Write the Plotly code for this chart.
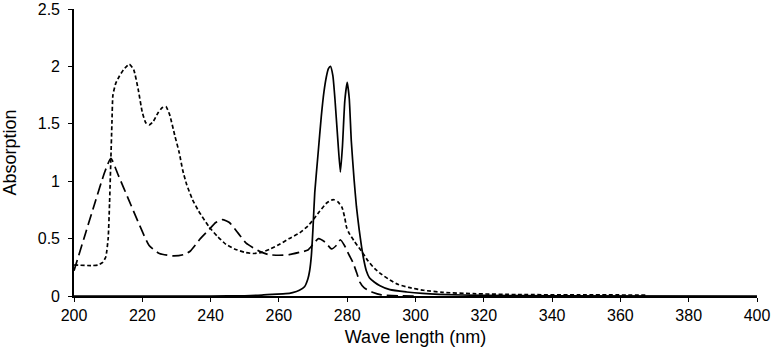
import plotly.graph_objects as go

# Solid curve
solid_x = [200, 220, 240, 250, 255, 258, 262, 264, 266, 267.5, 268.5, 269, 269.5, 270, 270.5,
           271.5, 272.4, 273.2, 273.9, 274.5, 275.1, 275.8, 276.4, 277.3, 278.0, 278.6, 279.3,
           280.0, 280.6, 281.2, 282.0, 282.7, 283.5, 284.2, 284.7, 285.6, 286.5, 288, 289.6,
           292.5, 297.4, 302, 307, 320, 340, 400]
solid_y = [0, 0, 0, 0.002, 0.008, 0.015, 0.02, 0.03, 0.05, 0.08, 0.15, 0.22, 0.35, 0.6, 0.9,
           1.25, 1.56, 1.78, 1.91, 1.98, 2.0, 1.92, 1.72, 1.34, 1.08, 1.3, 1.7,
           1.86, 1.72, 1.35, 1.02, 0.78, 0.58, 0.43, 0.34, 0.22, 0.16, 0.12, 0.09,
           0.055, 0.035, 0.022, 0.014, 0.005, 0.002, 0]

# Long-dash curve
long_x = [200, 203, 206, 209, 210.8, 213, 216, 219, 222, 225, 228.9, 232, 234, 237, 239.6,
          241.5, 243.5, 245.5, 248, 250.4, 252.5, 254.3, 257, 260, 263, 266, 268.5, 270,
          271.6, 273.5, 275.4, 276.8, 278, 279.2, 280.5, 281.7, 282.8, 283.7, 285, 287.6,
          290, 295, 300]
long_y = [0.22, 0.51, 0.8, 1.08, 1.2, 1.05, 0.84, 0.63, 0.44, 0.37, 0.35, 0.36, 0.39, 0.5, 0.58,
          0.64, 0.665, 0.64, 0.55, 0.46, 0.42, 0.39, 0.36, 0.355, 0.36, 0.38, 0.40, 0.45,
          0.50, 0.47, 0.41, 0.44, 0.49, 0.44, 0.36, 0.29, 0.2, 0.12, 0.07, 0.03,
          0.01, 0.002, 0]

# Short-dash curve
short_x = [200, 205, 207, 208.3, 209.3, 210, 210.4, 210.8, 211.1, 211.4, 212.2, 213.2, 214.5,
           216.2, 217.5, 218.8, 220, 221, 222, 223.2, 224.5, 225.8, 226.9, 228, 229.5, 230.8,
           231.8, 233, 234.7, 236.5, 239.6, 242, 244.5, 247, 250, 252.4, 255, 257.5, 260.2,
           263, 266.1, 268.5, 270.2, 272, 274, 275.9, 277.3, 278.5, 279.3, 279.8, 280.5, 282,
           284.2, 286, 288, 290, 292.5, 295, 298, 302.3, 308, 317, 330, 350, 368]
short_y = [0.27, 0.265, 0.27, 0.29, 0.34, 0.5, 0.8, 1.2, 1.5, 1.75, 1.85, 1.91, 1.97,
           2.02, 1.97, 1.8, 1.6, 1.51, 1.49, 1.52, 1.59, 1.64, 1.65, 1.58, 1.4, 1.25,
           1.10, 0.97, 0.84, 0.74, 0.60, 0.52, 0.45, 0.41, 0.38, 0.37, 0.38, 0.41, 0.45,
           0.5, 0.55, 0.61, 0.67, 0.74, 0.81, 0.84, 0.82, 0.77, 0.68, 0.60, 0.55, 0.48,
           0.39, 0.31, 0.24, 0.19, 0.14, 0.1, 0.075, 0.05, 0.032, 0.02, 0.012, 0.01, 0.008]

x_ticks = [200, 220, 240, 260, 280, 300, 320, 340, 360, 380, 400]
y_ticks = [0, 0.5, 1, 1.5, 2, 2.5]
y_tick_text = ["0", "0.5", "1", "1.5", "2", "2.5"]
x_title = "Wave length (nm)"
y_title = "Absorption"

fig = go.Figure()
fig.add_trace(go.Scatter(x=short_x, y=short_y, mode="lines",
                         line=dict(color="black", width=1.7, dash="4px,2.5px", shape="spline", smoothing=0.5)))
fig.add_trace(go.Scatter(x=long_x, y=long_y, mode="lines",
                         line=dict(color="black", width=1.7, dash="11px,5px", shape="spline", smoothing=0.5)))
fig.add_trace(go.Scatter(x=solid_x, y=solid_y, mode="lines",
                         line=dict(color="black", width=1.7, shape="spline", smoothing=0.5)))

font = dict(family="Liberation Sans, Arial, sans-serif", size=16, color="black")
tfont = dict(family="Liberation Sans, Arial, sans-serif", size=18, color="black")
fig.update_layout(
    width=771, height=357,
    margin=dict(l=74, r=14, t=9, b=61, autoexpand=False),
    paper_bgcolor="white", plot_bgcolor="white",
    showlegend=False,
    font=font,
)
fig.update_xaxes(range=[200, 400], tickvals=x_ticks, ticks="outside", ticklen=4, tickwidth=1.2,
                 tickcolor="black", showline=True, linecolor="black", linewidth=1.6,
                 showgrid=False, zeroline=False, automargin=False, tickfont=font,
                 title=dict(text=x_title, standoff=7, font=tfont))
fig.update_yaxes(range=[0, 2.5], tickvals=y_ticks, ticktext=y_tick_text, ticks="outside",
                 ticklen=4, tickwidth=1.2, tickcolor="black", showline=True, linecolor="black",
                 linewidth=1.6, showgrid=False, zeroline=False, automargin=False, tickfont=font,
                 ticklabelstandoff=5, title=dict(text=y_title, standoff=16, font=tfont))

fig.write_html("out.html")
